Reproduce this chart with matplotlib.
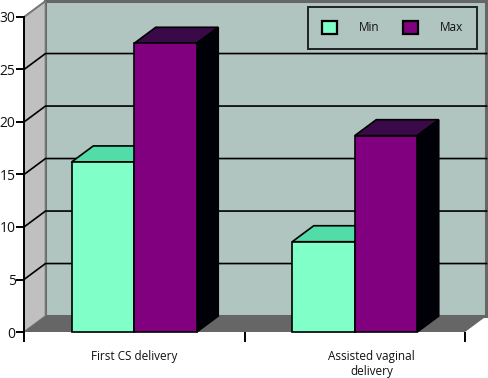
import numpy as np
import matplotlib
matplotlib.use('Agg')
import matplotlib.pyplot as plt
from matplotlib.patches import Polygon, Patch
from matplotlib.transforms import ScaledTranslation

categories = ['First CS delivery', 'Assisted vaginal\ndelivery']
min_values = [16.2, 8.6]
max_values = [27.5, 18.7]
yticks = [0, 5, 10, 15, 20, 25, 30]

W, H = 489, 378
dx = 0.0975   # depth of the fake 3D, in category units
dy = 1.52     # same, in value units
bw = 0.2834

plt.rcParams['font.family'] = ['Open Sans', 'DejaVu Sans']

fig = plt.figure(figsize=(W/100, H/100), dpi=100)
ax = fig.add_axes([24/W, 1-332/H, 441/W, 315/H])
ax.set_xlim(0, 2)
ax.set_ylim(0, 30)
ax.patch.set_visible(False)

def poly(pts, fc, ec='black', lw=1.2, z=1):
    ax.add_patch(Polygon(pts, closed=True, fc=fc, ec=ec, lw=lw, zorder=z, clip_on=False, joinstyle='miter'))

# walls and floor
poly([(dx, dy), (2+dx, dy), (2+dx, 30+dy), (dx, 30+dy)], '#b0c4c0', ec='#666666', lw=2.2)
poly([(0, 0), (dx, dy), (dx, 30+dy), (0, 30)], '#c0c0c0', ec='#777777', lw=1.2)
poly([(0, 0), (2, 0), (2+dx, dy), (dx, dy)], '#666666', ec='none', lw=0)

# gridlines
for v in yticks[1:-1]:
    ax.plot([0, dx, 2+dx], [v, v+dy, v+dy], color='black', lw=1.2, zorder=2, clip_on=False)
ax.plot([0, dx], [30, 30+dy], color='#777777', lw=1.2, zorder=2, clip_on=False)

x = np.array([0.5, 1.5])

def bar3d(left, vals, front, top, side, z):
    ax.bar(left, vals, bw, align='edge', color=front, edgecolor='black', linewidth=1.2, zorder=z+1, clip_on=False)
    for l, v in zip(left, vals):
        poly([(l, v), (l+dx, v+dy), (l+bw+dx, v+dy), (l+bw, v)], top, z=z)
        poly([(l+bw, 0), (l+bw+dx, dy), (l+bw+dx, v+dy), (l+bw, v)], side, z=z)

bar3d(x-bw, min_values, '#80ffc8', '#52dca8', '#52dca8', 3)
bar3d(x, max_values, '#800080', '#3a0a48', '#000008', 6)

# axes
for s in ['top', 'right', 'bottom']:
    ax.spines[s].set_visible(False)
ax.spines['left'].set_linewidth(1.4)
ax.spines['left'].set_zorder(10)
ax.set_yticks(yticks)
ax.set_yticklabels([str(v) for v in yticks], fontsize=10, color='#111111')
ax.tick_params(axis='y', length=6, width=1.4, pad=0)
ax.set_xticks([0, 1, 2])
ax.set_xticklabels(['', '', ''])
ax.tick_params(axis='x', length=7, width=1.4)
ax.set_xticks(x, minor=True)
labs = ax.set_xticklabels(categories, minor=True, fontsize=8.5, color='#111111', linespacing=1.2)
ax.tick_params(axis='x', which='minor', length=0, pad=13)
# second label sits right of its bars in the original
labs[1].set_transform(labs[1].get_transform() + ScaledTranslation(17/100, 0, fig.dpi_scale_trans))

# legend
handles = [Patch(fc='#80ffc8', ec='black', lw=1.6, label='Min'),
           Patch(fc='#800080', ec='black', lw=1.6, label='Max')]
leg = ax.legend(handles=handles, ncol=2, fontsize=8.5, fancybox=False, framealpha=1,
                facecolor='none', edgecolor='#222222', handlelength=1.27, handleheight=1.27,
                handletextpad=1.8, columnspacing=2.05, borderpad=1.2,
                loc='upper right', bbox_to_anchor=(477/W, 1-7/H), borderaxespad=0,
                bbox_transform=fig.transFigure, labelcolor='#111111')
leg.get_frame().set_linewidth(1.4)
leg.set_zorder(12)

fig.savefig('out.png', dpi=100)
